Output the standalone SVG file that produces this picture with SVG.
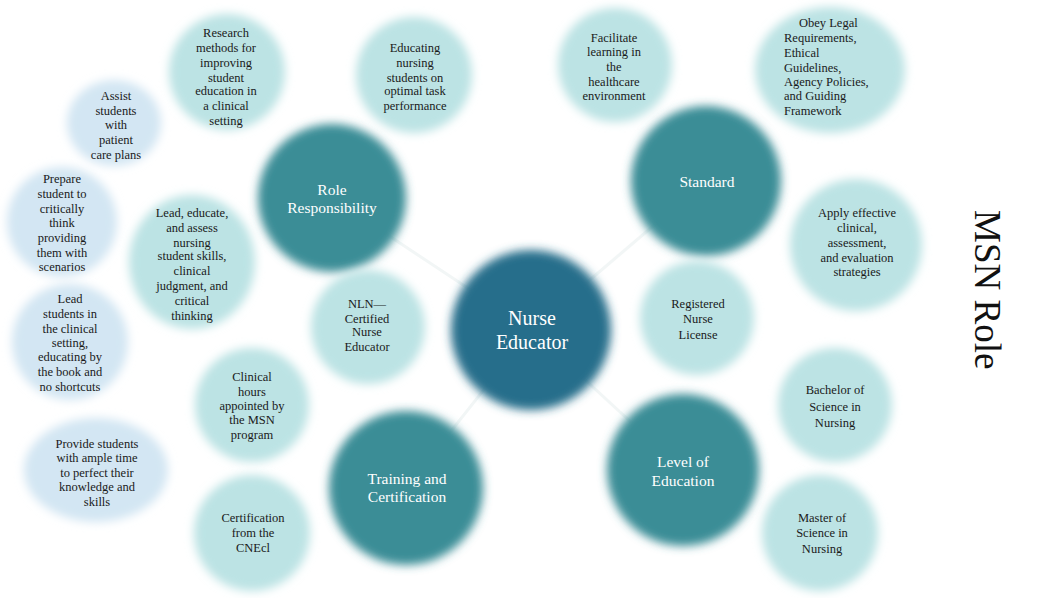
<svg xmlns="http://www.w3.org/2000/svg" width="1062" height="598" viewBox="0 0 1062 598">
<style>
.main{fill:#3a8d96}
.center{fill:#276e8b}
.lt{fill:#bce3e4}
.lb{fill:#d3e6f3}
.blob{filter:url(#soft)}
.t{font-family:"Liberation Serif","Times New Roman",serif;font-size:12.5px;fill:#1a1a1a;text-anchor:middle}
.tl{text-anchor:start}
.w{font-family:"Liberation Serif","Times New Roman",serif;font-size:15.5px;fill:#ffffff;text-anchor:middle}
.wc{font-size:20px}
.conn{stroke:#f2f6f6;stroke-width:3;fill:none}
</style>
<defs>
<filter id="soft" x="-25%" y="-25%" width="150%" height="150%"><feGaussianBlur stdDeviation="5"/></filter>
</defs>
<rect width="1062" height="598" fill="#ffffff"/>
<g id="connectors">
<line class="conn" x1="531" y1="330" x2="332" y2="198"/>
<line class="conn" x1="531" y1="330" x2="706" y2="181"/>
<line class="conn" x1="531" y1="330" x2="406" y2="488"/>
<line class="conn" x1="531" y1="330" x2="683" y2="470"/>
</g>
<g id="node-role"><circle class="main blob" cx="332" cy="198" r="74"/><text class="w" x="332" y="195">Role</text><text class="w" x="332" y="213">Responsibility</text></g>
<g id="node-standard"><circle class="main blob" cx="706" cy="181" r="75"/><text class="w" x="707" y="187">Standard</text></g>
<g id="node-nurse-educator"><circle class="center blob" cx="531" cy="330" r="80"/><text class="w wc" x="532" y="325">Nurse</text><text class="w wc" x="532" y="349">Educator</text></g>
<g id="node-training"><circle class="main blob" cx="406" cy="488" r="77"/><text class="w" x="407" y="484">Training and</text><text class="w" x="407" y="502">Certification</text></g>
<g id="node-education"><circle class="main blob" cx="683" cy="470" r="76"/><text class="w" x="683" y="467">Level of</text><text class="w" x="683" y="486">Education</text></g>
<g id="node-research"><circle class="lt blob" cx="227" cy="72" r="58"/>
<text class="t" x="226"><tspan x="226" y="37">Research</tspan><tspan x="226" y="52">methods for</tspan><tspan x="226" y="67">improving</tspan><tspan x="226" y="82">student</tspan><tspan x="226" y="95">education in</tspan><tspan x="226" y="110">a clinical</tspan><tspan x="226" y="125">setting</tspan></text></g>
<g id="node-assist"><ellipse class="lb blob" cx="114" cy="123" rx="47" ry="43"/>
<text class="t"><tspan x="116" y="100">Assist</tspan><tspan x="116" y="115">students</tspan><tspan x="116" y="129">with</tspan><tspan x="116" y="144">patient</tspan><tspan x="116" y="159">care plans</tspan></text></g>
<g id="node-prepare"><circle class="lb blob" cx="62" cy="222" r="55"/>
<text class="t"><tspan x="62" y="183">Prepare</tspan><tspan x="62" y="198">student to</tspan><tspan x="62" y="213">critically</tspan><tspan x="62" y="227">think</tspan><tspan x="62" y="242">providing</tspan><tspan x="62" y="257">them with</tspan><tspan x="62" y="271">scenarios</tspan></text></g>
<g id="node-lead-educate"><ellipse class="lt blob" cx="192" cy="262" rx="63" ry="67"/>
<text class="t"><tspan x="192" y="217">Lead, educate,</tspan><tspan x="192" y="232">and assess</tspan><tspan x="192" y="247">nursing</tspan><tspan x="192" y="260">student skills,</tspan><tspan x="192" y="275">clinical</tspan><tspan x="192" y="290">judgment, and</tspan><tspan x="192" y="305">critical</tspan><tspan x="192" y="320">thinking</tspan></text></g>
<g id="node-lead-students"><circle class="lb blob" cx="70" cy="342" r="58"/>
<text class="t"><tspan x="70" y="303">Lead</tspan><tspan x="70" y="318">students in</tspan><tspan x="70" y="333">the clinical</tspan><tspan x="70" y="347">setting,</tspan><tspan x="70" y="361">educating by</tspan><tspan x="70" y="376">the book and</tspan><tspan x="70" y="391">no shortcuts</tspan></text></g>
<g id="node-provide"><ellipse class="lb blob" cx="96" cy="470" rx="72" ry="52"/>
<text class="t"><tspan x="97" y="448">Provide students</tspan><tspan x="97" y="462">with ample time</tspan><tspan x="97" y="477">to perfect their</tspan><tspan x="97" y="491">knowledge and</tspan><tspan x="97" y="506">skills</tspan></text></g>
<g id="node-clinical-hours"><circle class="lt blob" cx="252" cy="405" r="57"/>
<text class="t"><tspan x="252" y="381">Clinical</tspan><tspan x="252" y="396">hours</tspan><tspan x="252" y="410">appointed by</tspan><tspan x="252" y="424">the MSN</tspan><tspan x="252" y="439">program</tspan></text></g>
<g id="node-cnecl"><circle class="lt blob" cx="252" cy="533" r="58"/>
<text class="t"><tspan x="253" y="522">Certification</tspan><tspan x="253" y="537">from the</tspan><tspan x="253" y="552">CNEcl</tspan></text></g>
<g id="node-nln"><circle class="lt blob" cx="368" cy="327" r="57"/>
<text class="t"><tspan x="367" y="308">NLN—</tspan><tspan x="367" y="323">Certified</tspan><tspan x="367" y="336">Nurse</tspan><tspan x="367" y="351">Educator</tspan></text></g>
<g id="node-educating"><circle class="lt blob" cx="414" cy="75" r="58"/>
<text class="t"><tspan x="415" y="52">Educating</tspan><tspan x="415" y="67">nursing</tspan><tspan x="415" y="82">students on</tspan><tspan x="415" y="95">optimal task</tspan><tspan x="415" y="110">performance</tspan></text></g>
<g id="node-facilitate"><circle class="lt blob" cx="615" cy="65" r="57"/>
<text class="t"><tspan x="614" y="42">Facilitate</tspan><tspan x="614" y="56">learning in</tspan><tspan x="614" y="71">the</tspan><tspan x="614" y="86">healthcare</tspan><tspan x="614" y="100">environment</tspan></text></g>
<g id="node-obey"><ellipse class="lt blob" cx="830" cy="70" rx="75" ry="63"/>
<text class="t tl"><tspan x="799" y="27">Obey Legal</tspan><tspan x="784" y="42">Requirements,</tspan><tspan x="784" y="57">Ethical</tspan><tspan x="784" y="72">Guidelines,</tspan><tspan x="784" y="86">Agency Policies,</tspan><tspan x="784" y="100">and Guiding</tspan><tspan x="784" y="115">Framework</tspan></text></g>
<g id="node-apply"><circle class="lt blob" cx="856" cy="245" r="66"/>
<text class="t"><tspan x="857" y="217">Apply effective</tspan><tspan x="857" y="232">clinical,</tspan><tspan x="857" y="247">assessment,</tspan><tspan x="857" y="262">and evaluation</tspan><tspan x="857" y="276">strategies</tspan></text></g>
<g id="node-rn"><circle class="lt blob" cx="697" cy="318" r="57"/>
<text class="t"><tspan x="698" y="308">Registered</tspan><tspan x="698" y="323">Nurse</tspan><tspan x="698" y="339">License</tspan></text></g>
<g id="node-bsn"><circle class="lt blob" cx="835" cy="405" r="57"/>
<text class="t"><tspan x="835" y="394">Bachelor of</tspan><tspan x="835" y="411">Science in</tspan><tspan x="835" y="427">Nursing</tspan></text></g>
<g id="node-msn"><circle class="lt blob" cx="820" cy="533" r="58"/>
<text class="t"><tspan x="822" y="522">Master of</tspan><tspan x="822" y="537">Science in</tspan><tspan x="822" y="553">Nursing</tspan></text></g>
<g id="title"><text transform="translate(975,210) rotate(90)" font-family="Liberation Serif,Times New Roman,serif" font-size="37" fill="#111111">MSN Role</text></g>
</svg>
